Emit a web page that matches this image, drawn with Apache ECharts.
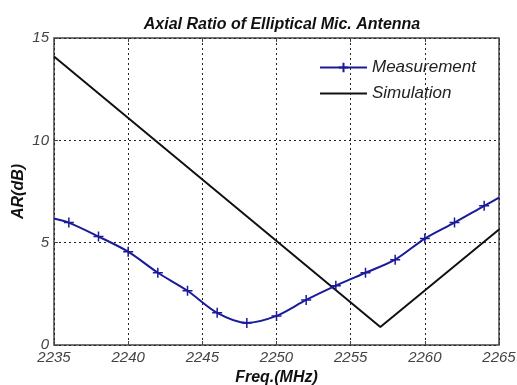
<!DOCTYPE html>
<html>
<head>
<meta charset="utf-8">
<script src="https://cdn.jsdelivr.net/npm/echarts@6/dist/echarts.min.js"></script>
<style>
  html, body { margin: 0; padding: 0; background: #fff; }
  #chart { width: 517px; height: 385px; }
</style>
</head>
<body>
<div id="chart"></div>
<script>
// measured AR (dB), markers every 2 MHz; end points drawn without marker
const measFreq = [2235, 2236, 2238, 2240, 2242, 2244, 2246, 2248, 2250, 2252, 2254, 2256, 2258, 2260, 2262, 2264, 2265];
const measAR = [6.18, 5.98, 5.3, 4.56, 3.53, 2.65, 1.57, 1.08, 1.42, 2.2, 2.9, 3.53, 4.17, 5.2, 5.98, 6.8, 7.2];
const simFreq = [2235, 2257, 2265];
const simAR = [14.1, 0.88, 5.64];

const plus = 'path://M0,-5L0,5M-5,0L5,0';
const font = 'Liberation Sans, Arial, sans-serif';

const chart = echarts.init(document.getElementById('chart'));

chart.setOption({
  animation: false,
  title: {
    text: 'Axial Ratio of Elliptical Mic. Antenna',
    left: 277,
    textAlign: 'center',
    top: 12,
    textStyle: { fontFamily: font, fontSize: 16, fontWeight: 'bold', fontStyle: 'italic', color: '#111' }
  },
  legend: {
    left: 314,
    top: 54,
    orient: 'vertical',
    itemWidth: 47,
    itemHeight: 12,
    itemGap: 9,
    textStyle: { fontFamily: font, fontSize: 17, fontStyle: 'italic', color: '#222' },
    data: ['Measurement', 'Simulation']
  },
  grid: {
    left: 54, right: 18, top: 38, bottom: 40,
    outerBoundsMode: 'none',
    show: true, borderColor: '#444', borderWidth: 1.5
  },
  xAxis: [{
    type: 'value',
    min: 2235, max: 2265, interval: 5,
    name: 'Freq.(MHz)',
    nameLocation: 'middle',
    nameGap: 25,
    nameTextStyle: { fontFamily: font, fontSize: 16, fontWeight: 'bold', fontStyle: 'italic', color: '#111' },
    axisLine: { show: false },
    axisTick: { inside: true, length: 4, lineStyle: { color: '#444' } },
    axisLabel: { fontFamily: font, fontSize: 15, fontStyle: 'italic', color: '#444', margin: 5, formatter: v => String(v) },
    splitLine: { lineStyle: { color: '#222', type: [2, 3], width: 1 } }
  }, {
    type: 'value',
    position: 'top',
    min: 2235, max: 2265, interval: 5,
    axisLine: { show: false },
    axisTick: { inside: true, length: 4, lineStyle: { color: '#444' } },
    axisLabel: { show: false },
    splitLine: { show: false }
  }],
  yAxis: {
    type: 'value',
    min: 0, max: 15, interval: 5,
    name: 'AR(dB)',
    nameLocation: 'middle',
    nameGap: 27,
    nameMoveOverlap: false,
    nameTextStyle: { fontFamily: font, fontSize: 16, fontWeight: 'bold', fontStyle: 'italic', color: '#111' },
    axisLine: { show: false },
    axisTick: { inside: true, length: 4, lineStyle: { color: '#444' } },
    axisLabel: { fontFamily: font, fontSize: 15, fontStyle: 'italic', color: '#444', margin: 5 },
    splitLine: { lineStyle: { color: '#222', type: [2, 3], width: 1 } }
  },
  series: [{
    name: 'Measurement',
    type: 'line',
    smooth: 0.3,
    data: measFreq.map((f, i) => [f, measAR[i]]),
    symbol: plus,
    symbolSize: (v, p) => (p.dataIndex === 0 || p.dataIndex === measFreq.length - 1) ? 0 : 10,
    showAllSymbol: true,
    lineStyle: { color: '#1a1a9a', width: 2 },
    itemStyle: { color: '#1a1a9a', borderColor: '#1a1a9a', borderWidth: 1.5 },
    z: 3
  }, {
    name: 'Simulation',
    type: 'line',
    data: simFreq.map((f, i) => [f, simAR[i]]),
    symbol: 'circle',
    showSymbol: false,
    lineStyle: { color: '#111', width: 2 },
    itemStyle: { color: 'rgba(0,0,0,0)', borderWidth: 0 },
    z: 2
  }]
});
</script>
</body>
</html>
